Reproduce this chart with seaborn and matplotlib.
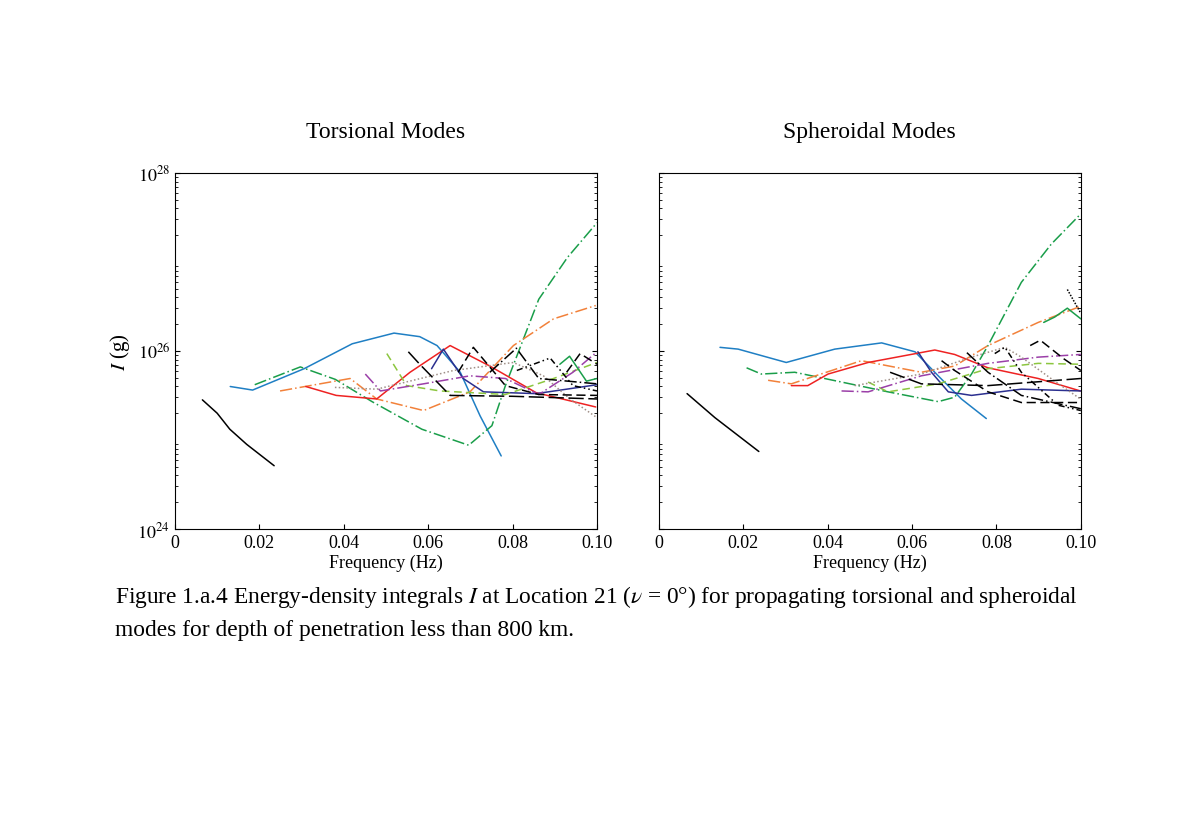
import numpy as np
import pandas as pd
import matplotlib
matplotlib.use("Agg")
import matplotlib.pyplot as plt
import seaborn as sns

# curves: (freq list, log10 I list)
tor_black = ([0.0065, 0.010, 0.013, 0.017, 0.0235], [25.45, 25.3, 25.12, 24.95, 24.71])
tor_blue = ([0.0131, 0.0184, 0.0306, 0.042, 0.0519, 0.058, 0.0621, 0.0676, 0.0723, 0.0773],
            [25.60, 25.56, 25.80, 26.08, 26.20, 26.16, 26.06, 25.76, 25.27, 24.82])
tor_green = ([0.0189, 0.0297, 0.038, 0.0467, 0.0585, 0.0696, 0.0751, 0.0783, 0.0862, 0.093, 0.1],
             [25.62, 25.82, 25.68, 25.43, 25.12, 24.94, 25.16, 25.61, 26.58, 27.05, 27.44])
tor_orange = ([0.0249, 0.0415, 0.0478, 0.0589, 0.0699, 0.0802, 0.0897, 0.0997],
              [25.55, 25.69, 25.46, 25.33, 25.54, 26.06, 26.36, 26.51])
tor_red = ([0.0310, 0.0382, 0.0478, 0.0557, 0.0652, 0.0746, 0.0856, 0.0997],
           [25.60, 25.50, 25.46, 25.76, 26.06, 25.83, 25.53, 25.37])
tor_navy = ([0.0608, 0.0636, 0.0683, 0.0731, 0.0856, 0.1], [25.80, 26.02, 25.69, 25.54, 25.52, 25.62])
tor_lgreen = ([0.0502, 0.0549, 0.0628, 0.0783, 0.0897, 0.1], [25.97, 25.61, 25.55, 25.51, 25.69, 25.87])
tor_purple = ([0.0451, 0.0487, 0.0589, 0.0699, 0.0783, 0.0862, 0.0943, 0.1],
              [25.74, 25.55, 25.63, 25.72, 25.69, 25.51, 25.76, 25.99])
tor_gray = ([0.0379, 0.0478, 0.0660, 0.0802, 0.0873, 0.0936, 0.0997],
            [25.59, 25.57, 25.78, 25.87, 25.72, 25.46, 25.26])
tor_k1 = ([0.0553, 0.058, 0.0652, 0.08, 0.1], [25.99, 25.85, 25.50, 25.49, 25.46])
tor_k2 = ([0.0671, 0.0707, 0.0783, 0.0862, 0.1], [25.76, 26.04, 25.61, 25.51, 25.50])
tor_k3 = ([0.0746, 0.0809, 0.0862, 0.1], [25.76, 26.03, 25.69, 25.63])
tor_k4 = ([0.0810, 0.0889, 0.0943, 0.1], [25.78, 25.92, 25.61, 25.55])
tor_k5 = ([0.0928, 0.0960, 0.1], [25.76, 25.97, 25.85])
tor_gsolid = ([0.0912, 0.0935, 0.0975, 0.1], [25.85, 25.94, 25.66, 25.69])

sph_black = ([0.0067, 0.0133, 0.0237], [25.52, 25.25, 24.87])
sph_blue = ([0.0145, 0.0188, 0.0302, 0.0417, 0.0528, 0.0607, 0.0662, 0.0717, 0.0776],
            [26.04, 26.02, 25.87, 26.02, 26.09, 25.99, 25.72, 25.46, 25.24])
sph_green = ([0.0208, 0.0243, 0.0322, 0.0433, 0.0543, 0.0662, 0.0701, 0.0741, 0.0780, 0.0859, 0.093, 0.1],
             [25.81, 25.74, 25.76, 25.65, 25.54, 25.43, 25.48, 25.74, 26.06, 26.77, 27.2, 27.54])
sph_orange = ([0.0259, 0.0314, 0.0480, 0.0622, 0.0701, 0.0780, 0.0899, 0.0999],
              [25.67, 25.63, 25.89, 25.76, 25.83, 26.06, 26.32, 26.50])
sph_red = ([0.0314, 0.0353, 0.0401, 0.0496, 0.0654, 0.0701, 0.0780, 0.0899, 0.0999],
           [25.61, 25.61, 25.74, 25.87, 26.01, 25.96, 25.81, 25.69, 25.55])
sph_navy = ([0.0614, 0.0646, 0.0686, 0.0741, 0.0859, 0.1], [25.99, 25.76, 25.54, 25.50, 25.57, 25.55])
sph_lgreen = ([0.0496, 0.0543, 0.0662, 0.0780, 0.0899, 0.1], [25.65, 25.54, 25.63, 25.80, 25.86, 25.85])
sph_purple = ([0.0433, 0.0496, 0.0622, 0.0780, 0.0899, 0.1], [25.55, 25.54, 25.72, 25.86, 25.93, 25.96])
sph_gray = ([0.0464, 0.0622, 0.0741, 0.0820, 0.0859, 0.0938, 0.0999],
            [25.61, 25.74, 25.93, 26.04, 25.93, 25.66, 25.46])
sph_k1 = ([0.0548, 0.0622, 0.0780, 0.1], [25.76, 25.63, 25.61, 25.69])
sph_k2 = ([0.0670, 0.0701, 0.0780, 0.0859, 0.1], [25.89, 25.78, 25.54, 25.42, 25.42])
sph_k3 = ([0.0730, 0.0780, 0.0859, 0.1], [25.98, 25.76, 25.50, 25.35])
sph_k4 = ([0.0796, 0.0820, 0.0859, 0.0946, 0.1], [25.97, 26.04, 25.76, 25.39, 25.33])
sph_k5 = ([0.0880, 0.0904, 0.0960, 0.1], [26.06, 26.12, 25.91, 25.78])
sph_gsolid = ([0.0912, 0.0938, 0.0968, 0.1], [26.32, 26.38, 26.48, 26.36])
sph_kdot = ([0.0968, 0.0999], [26.69, 26.43])

# styles: color, linestyle
styles = {
    "black": ("black", "-"), "blue": ("#1f7fc4", "-"), "green": ("#1a9e4a", (0, (8, 2, 1, 2))),
    "orange": ("#f2813a", (0, (8, 2, 1, 2))), "red": ("#ee2222", "-"), "navy": ("#2b2f8f", "-"),
    "lgreen": ("#8cc63f", (0, (5, 3))), "purple": ("#9b3fa8", (0, (8, 2, 1, 2))),
    "gray": ("#a09088", (0, (1, 1.5))), "k1": ("black", (0, (10, 3))), "k2": ("black", (0, (6, 3))),
    "k3": ("black", (0, (8, 2, 1, 2))), "k4": ("black", (0, (4, 2, 1, 2, 1, 2))),
    "k5": ("black", (0, (6, 3))), "gsolid": ("#1a9e4a", "-"), "kdot": ("black", (0, (1, 1))),
}
torsional = {"black": tor_black, "blue": tor_blue, "green": tor_green, "orange": tor_orange,
             "red": tor_red, "navy": tor_navy, "lgreen": tor_lgreen, "purple": tor_purple,
             "gray": tor_gray, "k1": tor_k1, "k2": tor_k2, "k3": tor_k3, "k4": tor_k4,
             "k5": tor_k5, "gsolid": tor_gsolid}
spheroidal = {"black": sph_black, "blue": sph_blue, "green": sph_green, "orange": sph_orange,
              "red": sph_red, "navy": sph_navy, "lgreen": sph_lgreen, "purple": sph_purple,
              "gray": sph_gray, "k1": sph_k1, "k2": sph_k2, "k3": sph_k3, "k4": sph_k4,
              "k5": sph_k5, "gsolid": sph_gsolid, "kdot": sph_kdot}

sns.set_style("ticks")
plt.rcParams["font.family"] = ["Liberation Serif", "DejaVu Serif"]
plt.rcParams["mathtext.fontset"] = "stix"
plt.rcParams["text.color"] = "black"
plt.rcParams["axes.labelcolor"] = "black"
plt.rcParams["xtick.color"] = "black"
plt.rcParams["ytick.color"] = "black"
plt.rcParams["axes.edgecolor"] = "black"

fig = plt.figure(figsize=(12, 8.28), dpi=100)
ax1 = fig.add_axes([0.1458, 0.360, 0.3517, 0.430])
ax2 = fig.add_axes([0.549, 0.360, 0.3517, 0.430])

for ax, curves, title in [(ax1, torsional, "Torsional Modes"), (ax2, spheroidal, "Spheroidal Modes")]:
    for name, (f, logi) in curves.items():
        df = pd.DataFrame({"f": f, "I": 10 ** np.array(logi)})
        c, ls = styles[name]
        sns.lineplot(data=df, x="f", y="I", ax=ax, color=c, linestyle=ls, linewidth=1.1,
                     estimator=None, sort=False)
    ax.set_yscale("log")
    ax.set_ylim(1e24, 1e28)
    ax.set_xlim(0, 0.1)
    ax.set_xticks([0, 0.02, 0.04, 0.06, 0.08, 0.10])
    ax.set_xticklabels(["0", "0.02", "0.04", "0.06", "0.08", "0.10"])
    ax.set_yticks([1e24, 1e26, 1e28])
    ax.tick_params(direction="in", which="both", right=True, top=False, labelsize=13)
    ax.set_xlabel("Frequency (Hz)", fontsize=13, labelpad=2)
    ax.set_ylabel("")
    ax.set_title(title, fontsize=17, pad=26)

ax1.set_yticklabels([r"$10^{24}$", r"$10^{26}$", r"$10^{28}$"])
ax1.set_ylabel(r"$I$ (g)", fontsize=15)
ax2.set_yticklabels([])

fig.text(0.096, 0.272, "Figure 1.a.4 Energy-density integrals $I$ at Location 21 ($\\nu$ = 0°) for propagating torsional and spheroidal",
         fontsize=16.8)
fig.text(0.096, 0.232, "modes for depth of penetration less than 800 km.", fontsize=16.8)

fig.savefig("out.png", dpi=100)
